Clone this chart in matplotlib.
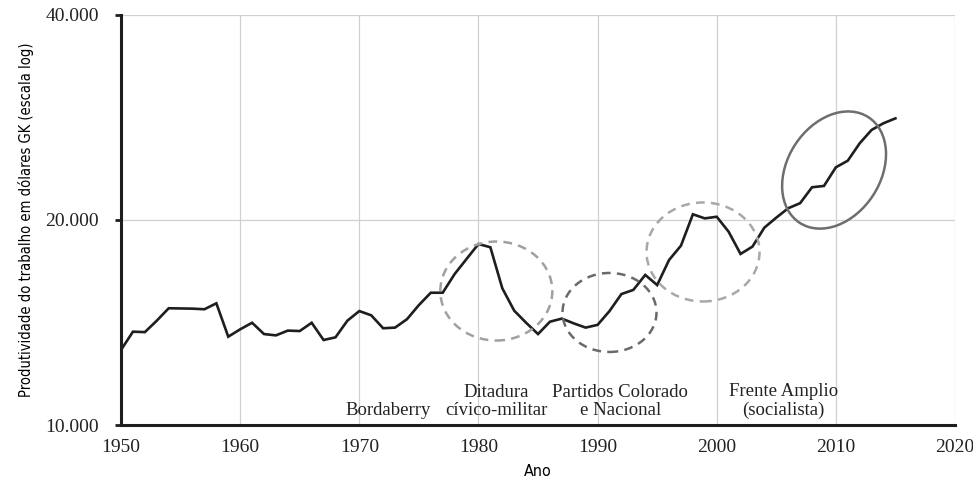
#!/usr/bin/env python3
"""Labour productivity in Uruguay 1950-2015 (GK dollars, log scale) with political periods."""

import matplotlib
matplotlib.use('Agg')
import matplotlib.pyplot as plt
from matplotlib.patches import Ellipse
from matplotlib import transforms

# data
years = list(range(1950, 2016))
productivity = [
    12890, 13710, 13690, 14230, 14840, 14830, 14820, 14790, 15090, 13480,  # 1950-59
    13820, 14130, 13600, 13540, 13760, 13740, 14130, 13330, 13450, 14230,  # 1960-69
    14700, 14490, 13870, 13900, 14300, 15000, 15640, 15640, 16660, 17530,  # 1970-79
    18440, 18240, 15880, 14720, 14130, 13600, 14180, 14330, 14100, 13900,  # 1980-89
    14030, 14700, 15570, 15790, 16610, 16050, 17470, 18340, 20390, 20110,  # 1990-99
    20220, 19220, 17830, 18280, 19490, 20160, 20810, 21170, 22340, 22440,  # 2000-09
    23900, 24440, 25920, 27120, 27740, 28200,                              # 2010-15
]

x_ticks = [1950, 1960, 1970, 1980, 1990, 2000, 2010, 2020]
y_ticks = [10000, 20000, 40000]
y_tick_labels = ['10.000', '20.000', '40.000']

# period labels: (x centre year, text)
period_years = [1972.4, 1981.5, 1991.9, 2005.6]
period_labels = ['Bordaberry', 'Ditadura\ncívico-militar',
                 'Partidos Colorado\ne Nacional', 'Frente Amplio\n(socialista)']

# highlight ellipses: centre (year, value)
ellipse_years = [1981.5, 1991.0, 1998.85, 2009.85]
ellipse_values = [15730, 14630, 17950, 23680]

serif = ['Liberation Serif', 'DejaVu Serif']

fig = plt.figure(figsize=(9.73, 4.91), dpi=100)
ax = fig.add_axes([0.1244, 0.1344, 0.8571, 0.8351])

ax.plot(years, productivity, color='#1e1e1e', lw=1.9, zorder=3, solid_joinstyle='miter')

ax.set_yscale('log')
ax.set_xlim(1950, 2020)
ax.set_ylim(10000, 40000)
ax.set_yticks(y_ticks)
ax.set_yticklabels(y_tick_labels)
ax.yaxis.set_minor_locator(matplotlib.ticker.NullLocator())
ax.set_xticks(x_ticks)
for lab in ax.get_xticklabels() + ax.get_yticklabels():
    lab.set_family(serif)
    lab.set_fontsize(14)
    lab.set_color('#222222')

ax.grid(True, color='#d0d0d0', lw=0.9, zorder=0)
ax.set_axisbelow(True)
for s in ['top', 'right']:
    ax.spines[s].set_visible(False)
for s in ['left', 'bottom']:
    ax.spines[s].set_linewidth(2.2)
    ax.spines[s].set_color('#1e1e1e')
ax.tick_params(axis='y', length=4, width=2, color='#1e1e1e', pad=12)
ax.tick_params(axis='x', length=0, pad=10)

ax.set_xlabel('Ano', family='DejaVu Sans', fontstretch='condensed', fontsize=11.5, labelpad=6)
ax.set_ylabel('Produtividade do trabalho em dólares GK (escala log)',
              family='DejaVu Sans', fontstretch='condensed', fontsize=10.5, labelpad=8)

# period names sit just above the x axis
for xp, txt in zip(period_years, period_labels):
    ax.annotate(txt, xy=(xp, 10000), xytext=(0, 4), textcoords='offset points',
                ha='center', va='bottom', family=serif, fontsize=13.5,
                color='#222222', linespacing=1.15)

# ellipses sized in inches, placed at data coords
ell_w = [1.12, 0.94, 1.13, 1.26]
ell_h = [0.99, 0.79, 0.99, 0.93]
ell_ang = [0, 0, 0, 57]
ell_col = ['#a0a0a0', '#6a6a6a', '#a8a8a8', '#6e6e6e']
ell_ls = [(0, (3.5, 2.5)), (0, (3.5, 2.5)), (0, (3.5, 2.5)), '-']
for xe, ye, w, h, a, c, ls in zip(ellipse_years, ellipse_values, ell_w, ell_h,
                                   ell_ang, ell_col, ell_ls):
    tr = fig.dpi_scale_trans + transforms.ScaledTranslation(xe, ye, ax.transData)
    e = Ellipse((0, 0), w, h, angle=a, transform=tr, fill=False,
                edgecolor=c, lw=1.8, linestyle=ls, zorder=4)
    ax.add_patch(e)

fig.savefig('out.png', dpi=100)
